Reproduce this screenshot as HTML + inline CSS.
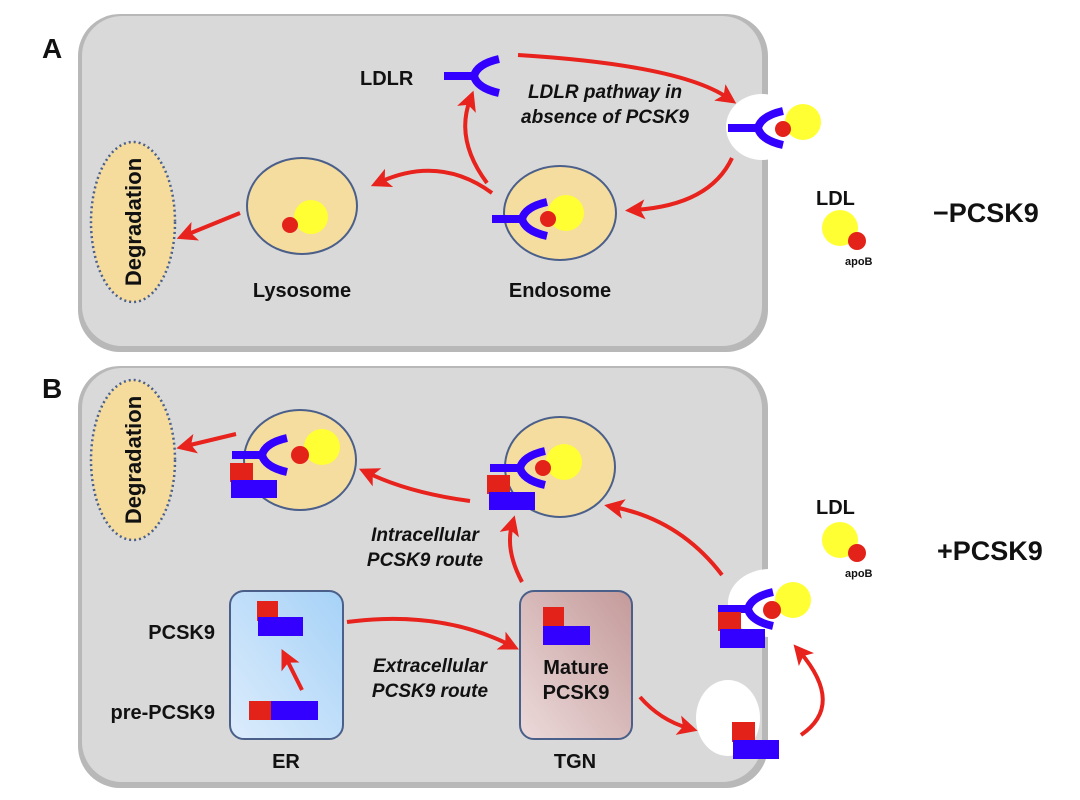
<!DOCTYPE html>
<html><head><meta charset="utf-8"><style>
html,body{margin:0;padding:0;background:#fff;}
svg{display:block;font-family:"Liberation Sans",Arial,sans-serif;}
.b{font-weight:bold;fill:#111;}
.i{font-weight:bold;font-style:italic;fill:#111;font-size:19px;}
.arr{stroke:#e8221c;stroke-width:4;fill:none;marker-end:url(#ah);}
</style></head><body>
<svg width="1080" height="800" viewBox="0 0 1080 800" xmlns="http://www.w3.org/2000/svg">
<defs>
<marker id="ah" markerWidth="5" markerHeight="5" refX="2.5" refY="2.5" orient="auto" markerUnits="strokeWidth">
<path d="M0,0 L5,2.5 L0,5 L1.2,2.5 Z" fill="#e8221c"/></marker>
<g id="rec"><rect x="-30" y="-4" width="30" height="8" fill="#3300ff"/>
<path d="M25,-17 Q3,-12 0,0 Q3,12 25,17" stroke="#3300ff" stroke-width="8" fill="none"/></g>
<linearGradient id="er" x1="0" y1="1" x2="1" y2="0"><stop offset="0" stop-color="#dcecfc"/><stop offset="1" stop-color="#a6d2f7"/></linearGradient>
<linearGradient id="tg" x1="0" y1="1" x2="1" y2="0"><stop offset="0" stop-color="#ecdada"/><stop offset="1" stop-color="#c49a9a"/></linearGradient>
</defs>
<rect x="78" y="14" width="690" height="338" rx="42" fill="#b8b8b8"/>
<rect x="82" y="16" width="680" height="330" rx="40" fill="#d9d9d9"/>
<rect x="78" y="366" width="690" height="422" rx="42" fill="#b8b8b8"/>
<rect x="82" y="368" width="680" height="414" rx="40" fill="#d9d9d9"/>
<text x="42" y="58" class="b" font-size="28">A</text>
<text x="42" y="398" class="b" font-size="28">B</text>

<ellipse cx="133" cy="222" rx="42" ry="80" fill="#f6dc9c" stroke="#4a5f8a" stroke-width="2.5" stroke-dasharray="2,3"/>
<text transform="translate(141,222) rotate(-90)" text-anchor="middle" class="b" font-size="22">Degradation</text>
<text x="360" y="85" class="b" font-size="20">LDLR</text>
<use href="#rec" x="474" y="76"/>
<text x="605" y="98" class="i" text-anchor="middle">LDLR pathway in</text>
<text x="605" y="123" class="i" text-anchor="middle">absence of PCSK9</text>
<ellipse cx="762" cy="127" rx="36" ry="33" fill="#fff"/>
<circle cx="803" cy="122" r="18" fill="#ffff33"/>
<use href="#rec" x="758" y="128"/>
<circle cx="783" cy="129" r="8" fill="#e32219"/>
<ellipse cx="560" cy="213" rx="56" ry="47" fill="#f5dc9f" stroke="#4a5f8a" stroke-width="2"/>
<circle cx="566" cy="213" r="18" fill="#ffff33"/>
<use href="#rec" x="522" y="219"/>
<circle cx="548" cy="219" r="8" fill="#e32219"/>
<text x="560" y="297" class="b" font-size="20" text-anchor="middle">Endosome</text>
<ellipse cx="302" cy="206" rx="55" ry="48" fill="#f5dc9f" stroke="#4a5f8a" stroke-width="2"/>
<circle cx="311" cy="217" r="17" fill="#ffff33"/>
<circle cx="290" cy="225" r="8" fill="#e32219"/>
<text x="302" y="297" class="b" font-size="20" text-anchor="middle">Lysosome</text>
<path class="arr" d="M518,55 Q680,65 728,98"/>
<path class="arr" d="M732,158 Q710,205 635,210"/>
<path class="arr" d="M487,183 Q455,140 470,100"/>
<path class="arr" d="M492,193 Q440,155 380,182"/>
<path class="arr" d="M240,213 L186,235"/>
<text x="816" y="205" class="b" font-size="20">LDL</text>
<circle cx="840" cy="228" r="18" fill="#ffff33"/>
<circle cx="857" cy="241" r="9" fill="#e32219"/>
<text x="845" y="265" class="b" font-size="11">apoB</text>
<text x="933" y="222" class="b" font-size="27">−PCSK9</text>

<ellipse cx="133" cy="460" rx="42" ry="80" fill="#f6dc9c" stroke="#4a5f8a" stroke-width="2.5" stroke-dasharray="2,3"/>
<text transform="translate(141,460) rotate(-90)" text-anchor="middle" class="b" font-size="22">Degradation</text>
<ellipse cx="300" cy="460" rx="56" ry="50" fill="#f5dc9f" stroke="#4a5f8a" stroke-width="2"/>
<circle cx="322" cy="447" r="18" fill="#ffff33"/>
<use href="#rec" x="262" y="455"/>
<circle cx="300" cy="455" r="9" fill="#e32219"/>
<rect x="230" y="463" width="23" height="19" fill="#e32219"/>
<rect x="231" y="480" width="46" height="18" fill="#3300ff"/>
<path class="arr" d="M236,434 L186,446"/>
<ellipse cx="560" cy="467" rx="55" ry="50" fill="#f5dc9f" stroke="#4a5f8a" stroke-width="2"/>
<circle cx="564" cy="462" r="18" fill="#ffff33"/>
<use href="#rec" x="520" y="468"/>
<circle cx="543" cy="468" r="8" fill="#e32219"/>
<rect x="487" y="475" width="23" height="19" fill="#e32219"/>
<rect x="489" y="492" width="46" height="18" fill="#3300ff"/>
<path class="arr" d="M470,501 Q410,493 368,473"/>
<path class="arr" d="M522,582 Q505,550 512,525"/>
<path class="arr" d="M722,575 Q680,520 614,507"/>
<text x="425" y="541" class="i" text-anchor="middle">Intracellular</text>
<text x="425" y="566" class="i" text-anchor="middle">PCSK9 route</text>

<rect x="230" y="591" width="113" height="148" rx="14" fill="url(#er)" stroke="#4a5f8a" stroke-width="2"/>
<rect x="257" y="601" width="21" height="20" fill="#e32219"/>
<rect x="258" y="617" width="45" height="19" fill="#3300ff"/>
<rect x="249" y="701" width="22" height="19" fill="#e32219"/>
<rect x="271" y="701" width="47" height="19" fill="#3300ff"/>
<path class="arr" d="M302,690 Q292,670 286,658"/>
<text x="215" y="639" class="b" font-size="20" text-anchor="end">PCSK9</text>
<text x="215" y="719" class="b" font-size="20" text-anchor="end">pre-PCSK9</text>
<text x="286" y="768" class="b" font-size="20" text-anchor="middle">ER</text>

<rect x="520" y="591" width="112" height="148" rx="14" fill="url(#tg)" stroke="#4a5f8a" stroke-width="2"/>
<rect x="543" y="607" width="21" height="20" fill="#e32219"/>
<rect x="543" y="626" width="47" height="19" fill="#3300ff"/>
<text x="576" y="674" class="b" font-size="20" text-anchor="middle">Mature</text>
<text x="576" y="699" class="b" font-size="20" text-anchor="middle">PCSK9</text>
<text x="575" y="768" class="b" font-size="20" text-anchor="middle">TGN</text>
<path class="arr" d="M347,622 Q440,610 510,645"/>
<text x="430" y="672" class="i" text-anchor="middle">Extracellular</text>
<text x="430" y="697" class="i" text-anchor="middle">PCSK9 route</text>
<path class="arr" d="M640,697 Q660,720 688,728"/>

<ellipse cx="728" cy="718" rx="32" ry="38" fill="#fff"/>
<rect x="732" y="722" width="23" height="20" fill="#e32219"/>
<rect x="733" y="740" width="46" height="19" fill="#3300ff"/>
<ellipse cx="770" cy="603" rx="42" ry="34" fill="#fff"/>
<circle cx="793" cy="600" r="18" fill="#ffff33"/>
<use href="#rec" x="748" y="609"/>
<circle cx="772" cy="610" r="9" fill="#e32219"/>
<rect x="718" y="612" width="23" height="19" fill="#e32219"/>
<rect x="720" y="629" width="45" height="19" fill="#3300ff"/>
<path class="arr" d="M801,735 Q845,705 800,652"/>
<text x="816" y="514" class="b" font-size="20">LDL</text>
<circle cx="840" cy="540" r="18" fill="#ffff33"/>
<circle cx="857" cy="553" r="9" fill="#e32219"/>
<text x="845" y="577" class="b" font-size="11">apoB</text>
<text x="937" y="560" class="b" font-size="27">+PCSK9</text>
</svg>
</body></html>
